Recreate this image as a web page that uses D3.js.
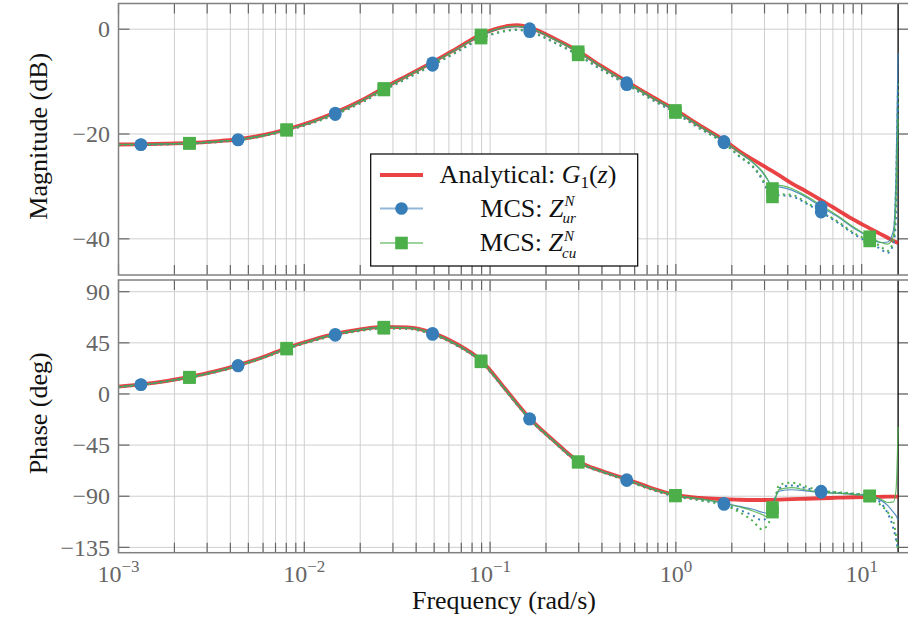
<!DOCTYPE html>
<html>
<head>
<meta charset="utf-8">
<script src="https://cdnjs.cloudflare.com/ajax/libs/d3/7.8.5/d3.min.js"></script>
<style>
body{margin:0;background:#fff}
svg{display:block}
</style>
</head>
<body>
<div id="c"></div>
<script>
// frequency grid (rad/s)
const freq=[0.001,0.00132,0.0018,0.00241,0.0033,0.0044,0.006,0.00804,0.011,0.01468,
0.02,0.0268,0.036,0.049,0.066,0.0894,0.12,0.14,0.1633,0.22,
0.298,0.4,0.544,0.73,0.994,1.35,1.815,2.2,2.6,2.9,
3.1,3.31,3.6,4.2,5.0,6.05,7.5,9.0,11.05,12.5,
13.8,14.8,15.3,15.708];
// magnitude (dB)
const magG1=[-22.0,-21.95,-21.85,-21.7,-21.4,-21.0,-20.2,-19.1,-17.6,-15.9,
-13.7,-11.2,-8.8,-6.3,-3.7,-1.0,0.5,0.75,0.3,-1.7,
-4.2,-7.1,-10.0,-12.7,-15.4,-18.4,-21.2,-23.3,-24.9,-25.9,
-26.5,-27.1,-27.9,-29.4,-30.9,-32.6,-34.6,-36.3,-38.0,-39.0,
-39.8,-40.4,-40.6,-40.8];
const magUr=[-22.0,-22.0,-21.9,-21.75,-21.45,-21.05,-20.25,-19.15,-17.7,-16.0,
-13.8,-11.3,-8.9,-6.4,-3.85,-1.2,0.3,0.5,0.1,-1.9,
-4.4,-7.3,-10.2,-12.9,-15.6,-18.6,-21.4,-23.6,-25.5,-27.2,
-28.6,-30.0,-30.1,-30.7,-32.0,-33.9,-35.9,-37.9,-39.7,-40.7,
-40.6,-38.5,-28.0,-4.5];
const magUrB=[-22.05,-22.05,-21.95,-21.8,-21.55,-21.15,-20.4,-19.35,-17.95,-16.3,
-14.15,-11.7,-9.35,-6.9,-4.4,-1.8,-0.4,-0.15,-0.5,-2.5,
-5.0,-7.8,-10.6,-13.3,-16.0,-19.0,-21.7,-24.3,-26.3,-28.6,
-30.6,-32.0,-31.7,-31.9,-33.2,-34.9,-37.0,-39.0,-40.8,-41.8,
-42.7,-41.0,-36.0,-12.0];
const magCu=[-22.0,-21.95,-21.9,-21.75,-21.45,-21.05,-20.25,-19.15,-17.7,-16.0,
-13.8,-11.3,-8.9,-6.4,-3.8,-1.1,0.4,0.6,0.2,-1.85,
-4.3,-7.2,-10.1,-12.8,-15.5,-18.5,-21.3,-23.5,-25.4,-27.0,
-28.5,-30.4,-29.8,-30.4,-31.8,-33.6,-35.7,-37.7,-39.6,-40.6,
-41.0,-39.5,-33.0,-17.0];
const magCuB=[-22.05,-22.05,-21.95,-21.8,-21.55,-21.15,-20.4,-19.3,-17.9,-16.25,
-14.1,-11.6,-9.25,-6.8,-4.3,-1.7,-0.3,-0.05,-0.4,-2.4,
-4.9,-7.7,-10.5,-13.2,-15.9,-18.9,-21.8,-24.2,-26.2,-28.3,
-30.3,-32.0,-31.5,-31.6,-33.0,-34.8,-36.8,-38.8,-40.4,-41.3,
-42.3,-40.5,-30.0,-10.0];
// phase (deg)
const phG1=[6.4,8.4,11.4,15.0,19.8,25.4,32.5,40.5,47.5,52.8,
56.8,59.0,58.6,53.8,44.0,29.5,5.0,-8.5,-21.4,-41.0,
-59.3,-67.8,-75.0,-82.5,-88.8,-91.5,-92.6,-93.1,-93.3,-93.3,
-93.3,-93.2,-93.0,-92.6,-92.2,-91.8,-91.3,-90.9,-90.6,-90.5,
-90.4,-90.4,-90.3,-90.3];
const phUr=[6.3,8.3,11.2,14.8,19.6,25.2,32.3,40.3,47.3,52.6,
56.6,58.8,58.3,53.5,43.6,29.1,4.6,-8.9,-21.7,-41.3,
-59.6,-68.1,-75.4,-83.0,-89.3,-92.3,-96.2,-99.0,-101.5,-104.0,
-105.0,-97.0,-85.5,-84.3,-85.3,-86.6,-87.5,-88.3,-89.8,-93.0,
-98.0,-104.0,-107.0,-111.0];
const phUrB=[6.2,8.1,10.9,14.4,19.1,24.6,31.6,39.5,46.4,51.6,
55.6,57.8,57.3,52.4,42.6,28.2,3.8,-9.6,-22.3,-42.0,
-60.3,-68.9,-76.3,-84.0,-90.3,-93.5,-97.3,-102.0,-107.0,-111.0,
-109.0,-100.0,-83.0,-80.5,-83.0,-85.5,-87.0,-88.0,-89.5,-95.0,
-105.0,-118.0,-128.0,-137.0];
const phCu=[6.3,8.3,11.2,14.8,19.6,25.2,32.3,40.3,47.3,52.6,
56.6,58.8,58.4,53.6,43.7,29.2,4.7,-8.8,-21.6,-41.2,
-59.5,-68.0,-75.3,-82.9,-89.2,-92.2,-96.0,-99.5,-103.0,-106.0,
-108.0,-100.0,-84.0,-82.5,-84.5,-86.5,-87.3,-88.3,-89.8,-92.0,
-95.5,-95.0,-85.0,-29.0];
const phCuB=[6.2,8.1,10.9,14.4,19.1,24.6,31.6,39.5,46.4,51.6,
55.6,57.8,57.4,52.5,42.7,28.3,3.9,-9.5,-22.2,-41.9,
-60.2,-68.8,-76.2,-83.9,-89.8,-93.6,-97.8,-104.0,-112.0,-119.0,
-116.0,-104.0,-80.0,-78.0,-81.5,-85.0,-86.5,-87.5,-89.8,-97.0,
-104.0,-112.0,-124.0,-138.0];
// marker frequencies
const markUr=[0.00132,0.0044,0.01468,0.049,0.1633,0.544,1.815,6.05];
const markCu=[0.00241,0.00804,0.0268,0.0894,0.298,0.994,3.31,11.05];
const fNyq=15.708;
const magTicks=[0,-20,-40];
const phTicks=[90,45,0,-45,-90,-135];
const xMajor=[1e-3,1e-2,1e-1,1e0,1e1];
const xExp=['−3','−2','−1','0','1'];

const W=908,H=621;
const FONT="'Liberation Serif','DejaVu Serif','Noto Serif',serif";
const RED='#e41a1c',BLUE='#377eb8',GREEN='#4daf4a',GRID='#cfcfcf',AX='#808080',TK='#666';
const x=d3.scaleLog().domain([1e-3,18]).range([118.5,909.1]);
const yMag=d3.scaleLinear().domain([-46.9,4.9]).range([275,3.5]);
const yPh=d3.scaleLinear().domain([-139.7,100.3]).range([552.7,280]);
const xl=x.range()[0],xr=x.range()[1];
const svg=d3.select('#c').append('svg').attr('width',W).attr('height',H).attr('font-family',FONT);

const panels=[
 {id:'m',y:yMag,ticks:magTicks,G1:magG1,ur:magUr,urB:magUrB,cu:magCu,cuB:magCuB,label:'Magnitude (dB)'},
 {id:'p',y:yPh,ticks:phTicks,G1:phG1,ur:phUr,urB:phUrB,cu:phCu,cuB:phCuB,label:'Phase (deg)'}
];
const isMajor=t=>Math.abs(Math.log10(t)-Math.round(Math.log10(t)))<1e-6;

panels.forEach(p=>{
 const yb=p.y.range()[0],yt=p.y.range()[1];
 svg.append('clipPath').attr('id','cl'+p.id).append('rect').attr('x',xl).attr('y',yt).attr('width',xr-xl).attr('height',yb-yt);
 const g=svg.append('g');
 // grid
 g.selectAll('.vg').data(x.ticks()).join('line').attr('x1',d=>x(d)).attr('x2',d=>x(d)).attr('y1',yt).attr('y2',yb)
  .attr('stroke',GRID).attr('stroke-width',1);
 g.selectAll('.hg').data(p.ticks).join('line').attr('x1',xl).attr('x2',xr).attr('y1',d=>p.y(d)).attr('y2',d=>p.y(d))
  .attr('stroke',GRID).attr('stroke-width',1);
 // ticks
 const tk=g.append('g').attr('stroke',TK).attr('stroke-width',1.2);
 x.ticks().forEach(t=>{const L=isMajor(t)?11:10;
  tk.append('line').attr('x1',x(t)).attr('x2',x(t)).attr('y1',yt).attr('y2',yt+L);
  tk.append('line').attr('x1',x(t)).attr('x2',x(t)).attr('y1',yb).attr('y2',yb-L)});
 p.ticks.forEach(t=>{
  tk.append('line').attr('x1',xl).attr('x2',xl+11).attr('y1',p.y(t)).attr('y2',p.y(t));
  tk.append('line').attr('x1',xr).attr('x2',xr-11).attr('y1',p.y(t)).attr('y2',p.y(t))});
 // nyquist
 g.append('line').attr('x1',x(fNyq)).attr('x2',x(fNyq)).attr('y1',yt).attr('y2',yb).attr('stroke','#000').attr('stroke-width',1.3);
 // curves
 const ln=d3.line().x((d,i)=>x(freq[i])).y(d=>p.y(d)).curve(d3.curveMonotoneX);
 const cg=g.append('g').attr('clip-path','url(#cl'+p.id+')').attr('fill','none');
 cg.append('path').attr('d',ln(p.G1)).attr('stroke',RED).attr('stroke-opacity',.82).attr('stroke-width',3.8);
 [[p.urB,BLUE],[p.cuB,GREEN]].forEach(([d,c])=>cg.append('path').attr('d',ln(d)).attr('stroke',c).attr('stroke-width',2).attr('stroke-dasharray','2,4'));
 [[p.ur,BLUE],[p.cu,GREEN]].forEach(([d,c])=>cg.append('path').attr('d',ln(d)).attr('stroke',c).attr('stroke-opacity',.85).attr('stroke-width',1.2));
 // markers
 const mg=g.append('g');
 markUr.forEach(f=>{const i=freq.indexOf(f);[p.urB[i],p.ur[i]].forEach(v=>
  mg.append('circle').attr('cx',x(f)).attr('cy',p.y(v)).attr('r',6.3).attr('fill',BLUE))});
 markCu.forEach(f=>{const i=freq.indexOf(f);[p.cuB[i],p.cu[i]].forEach(v=>
  mg.append('rect').attr('x',x(f)-6.3).attr('y',p.y(v)-6.3).attr('width',12.6).attr('height',12.6).attr('fill',GREEN))});
 // frame
 g.append('rect').attr('x',xl).attr('y',yt).attr('width',xr-xl).attr('height',yb-yt).attr('fill','none').attr('stroke',AX).attr('stroke-width',1.5);
 // y labels
 g.selectAll('.yl').data(p.ticks).join('text').attr('x',110).attr('y',d=>p.y(d)).attr('dy','0.34em').attr('text-anchor','end')
  .attr('font-size',24).attr('fill',TK).text(d=>d<0?'−'+Math.abs(d):d);
 svg.append('text').attr('transform','translate(47,'+((yt+yb)/2-3)+') rotate(-90)').attr('text-anchor','middle')
  .attr('font-size',26).attr('fill','#111').text(p.label);
});

// x tick labels
xMajor.forEach((t,i)=>{const tx=svg.append('text').attr('x',x(t)).attr('y',582).attr('text-anchor','middle').attr('font-size',24).attr('fill',TK);
 tx.append('tspan').text('10');tx.append('tspan').attr('dy',-10).attr('font-size',17).text(xExp[i])});
svg.append('text').attr('x',504).attr('y',609).attr('text-anchor','middle').attr('font-size',26).attr('fill','#111').text('Frequency (rad/s)');

// legend
const lg=svg.append('g');
lg.append('rect').attr('x',370.7).attr('y',154).attr('width',267).attr('height',112).attr('fill','#fff').attr('stroke','#000').attr('stroke-width',1.2);
const rows=[175,208.5,243];
lg.append('line').attr('x1',380).attr('x2',423).attr('y1',rows[0]).attr('y2',rows[0]).attr('stroke',RED).attr('stroke-opacity',.82).attr('stroke-width',4);
lg.append('line').attr('x1',380).attr('x2',423).attr('y1',rows[1]).attr('y2',rows[1]).attr('stroke',BLUE).attr('stroke-opacity',.55).attr('stroke-width',2);
lg.append('circle').attr('cx',401.5).attr('cy',rows[1]).attr('r',6.3).attr('fill',BLUE);
lg.append('line').attr('x1',380).attr('x2',423).attr('y1',rows[2]).attr('y2',rows[2]).attr('stroke',GREEN).attr('stroke-opacity',.55).attr('stroke-width',2);
lg.append('rect').attr('x',401.5-6.3).attr('y',rows[2]-6.3).attr('width',12.6).attr('height',12.6).attr('fill',GREEN);

const t1=lg.append('text').attr('x',528).attr('y',rows[0]+8).attr('text-anchor','middle').attr('font-size',26).attr('fill','#111');
t1.append('tspan').text('Analytical: ');
t1.append('tspan').attr('font-style','italic').text('G');
t1.append('tspan').attr('font-size',17).attr('dy',5).text('1');
t1.append('tspan').attr('dy',-5).text('(');
t1.append('tspan').attr('font-style','italic').text('z');
t1.append('tspan').text(')');
[[rows[1],'ur'],[rows[2],'cu']].forEach(([ry,sub])=>{
 const gg=lg.append('g');
 const a=gg.append('text').attr('x',0).attr('y',ry+8).attr('font-size',26).attr('fill','#111');
 a.append('tspan').text('MCS: ');a.append('tspan').attr('font-style','italic').text('Z');
 const L=a.node().getComputedTextLength()+1;
 const n=gg.append('text').attr('x',L).attr('y',ry-2.5).attr('font-size',15).attr('font-style','italic').attr('fill','#111').text('N');
 const s=gg.append('text').attr('x',L-2).attr('y',ry+14.5).attr('font-size',15).attr('font-style','italic').attr('fill','#111').text(sub);
 const tw=L+Math.max(n.node().getComputedTextLength(),s.node().getComputedTextLength()-2);
 gg.attr('transform','translate('+(528-tw/2)+',0)');
});
</script>
</body>
</html>
